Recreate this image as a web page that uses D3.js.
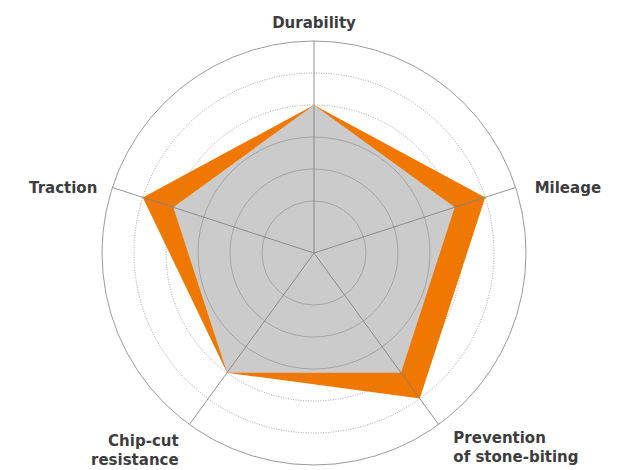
<!DOCTYPE html>
<html lang="en">
<head>
<meta charset="UTF-8">
<title>radar</title>
<script src="https://d3js.org/d3.v7.min.js"></script>
<style>
	body { margin: 0; background: #fff; }
	text { font-family: "DejaVu Sans", sans-serif; font-weight: bold; font-size: 15px; fill: #3d3d3d; }
</style>
</head>
<body>
<svg id="chart" width="622" height="470"></svg>
<script>
// axis labels, clockwise from the top
var axes = [["Durability"], ["Mileage"], ["Prevention", "of stone-biting"], ["Chip-cut", "resistance"], ["Traction"]];
// ring levels
var levels = [1, 2, 3, 4, 5, 6];
// series
var orangeVals = [4, 5, 5, 4, 5];
var greyVals = [4, 4, 4, 4, 4];

var cx = 314, cy = 253;
var svg = d3.select("#chart");
var g = svg.append("g").attr("transform", "translate(" + cx + "," + cy + ")");

var r = d3.scaleLinear().domain([0, 6]).range([20, 212]);
var ang = d3.scaleLinear().domain([0, axes.length]).range([0, 2 * Math.PI]);

var radial = d3.lineRadial()
	.angle(function(d, i){ return ang(i); })
	.radius(function(d){ return r(d); })
	.curve(d3.curveLinearClosed);

g.append("path").datum(orangeVals)
	.attr("d", radial)
	.attr("fill", "#f07800");

g.append("path").datum(greyVals)
	.attr("d", radial)
	.attr("fill", "#cbcbcb");

// rings
g.selectAll(".ring")
	.data(levels)
	.enter()
	.append("circle")
	.attr("class", "ring")
	.attr("r", function(d){ return r(d); })
	.attr("fill", "none")
	.attr("stroke", function(d){ return (d == 4 || d == 5) ? "#8a8a8a" : "#9a9a9a"; })
	.attr("stroke-opacity", function(d){ return d == 6 ? 1 : 0.8; })
	.attr("stroke-width", 1)
	.attr("stroke-dasharray", function(d){ return (d == 4 || d == 5) ? "1,1.5" : null; });

// spokes
g.selectAll(".spoke")
	.data(axes)
	.enter()
	.append("line")
	.attr("class", "spoke")
	.attr("x1", 0).attr("y1", 0)
	.attr("x2", function(d, i){ return r(6) * Math.sin(ang(i)); })
	.attr("y2", function(d, i){ return -r(6) * Math.cos(ang(i)); })
	.attr("stroke", "#808080")
	.attr("stroke-opacity", 0.85)
	.attr("stroke-width", 1);

// labels
var labelPos = [
	{anchor: "middle", dx: 0, dy: 7},
	{anchor: "start", dx: 0, dy: 12},
	{anchor: "start", dx: 3, dy: 2},
	{anchor: "end", dx: 1, dy: 5},
	{anchor: "end", dx: 4, dy: 12}
];
var labelR = r(6) + 20;

var labels = g.selectAll(".label")
	.data(axes)
	.enter()
	.append("text")
	.attr("class", "label")
	.attr("text-anchor", function(d, i){ return labelPos[i].anchor; })
	.attr("transform", function(d, i){
		var x = labelR * Math.sin(ang(i)) + labelPos[i].dx;
		var y = -labelR * Math.cos(ang(i)) + labelPos[i].dy;
		return "translate(" + x + "," + y + ")";
	});

labels.selectAll("tspan")
	.data(function(d){ return d; })
	.enter()
	.append("tspan")
	.attr("x", 0)
	.attr("dy", function(d, j){ return j == 0 ? 0 : 19; })
	.text(function(d){ return d; });
</script>
</body>
</html>
